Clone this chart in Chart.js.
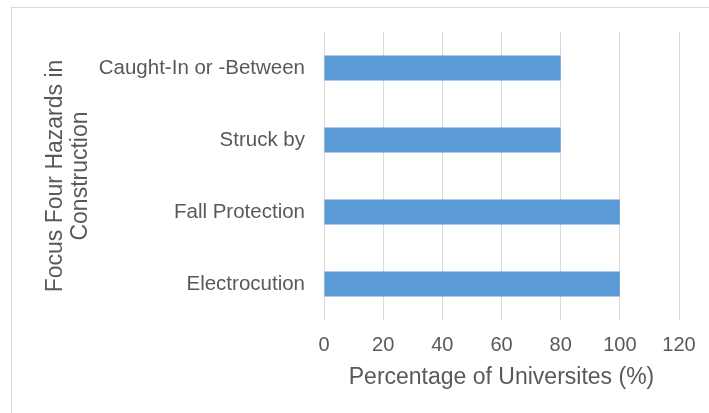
<!DOCTYPE html>
<html>
<head>
<meta charset="utf-8">
<script src="https://cdn.jsdelivr.net/npm/chart.js@4"></script>
<style>
  html, body { margin: 0; padding: 0; background: #fff; }
  #wrap { position: relative; width: 709px; height: 413px; overflow: hidden; }
  #frame { position: absolute; left: 11px; top: 7px; width: 800px; height: 500px; border: 1px solid #d9d9d9; }
  #chart { position: absolute; left: 0; top: 0; }
</style>
</head>
<body>
<div id="wrap">
  <div id="frame"></div>
  <canvas id="chart" width="709" height="413"></canvas>
</div>
<script>
// hazard categories, top to bottom
const categories = ["Caught-In or -Between", "Struck by", "Fall Protection", "Electrocution"];
// share of universities covering each hazard (%)
const values = [80, 80, 100, 100];
const xMin = 0;
const xMax = 120;
const xStep = 20;

const textColor = "#595959";
const fontFamily = "'Liberation Sans', Arial, sans-serif";

new Chart(document.getElementById("chart"), {
  type: "bar",
  data: {
    labels: categories,
    datasets: [{
      data: values,
      backgroundColor: "#5b9bd5",
      borderWidth: 0,
      categoryPercentage: 1,
      barPercentage: 0.35
    }]
  },
  options: {
    indexAxis: "y",
    responsive: false,
    animation: false,
    layout: { padding: { top: 32, right: 30, bottom: 0, left: 0 } },
    plugins: {
      legend: { display: false },
      tooltip: { enabled: false }
    },
    scales: {
      x: {
        min: xMin,
        max: xMax,
        ticks: {
          stepSize: xStep,
          color: textColor,
          padding: 13,
          font: { family: fontFamily, size: 20 }
        },
        grid: { color: "#d9d9d9", lineWidth: 1, drawTicks: false },
        border: { display: false },
        title: {
          display: true,
          text: "Percentage of Universites (%)",
          color: textColor,
          font: { family: fontFamily, size: 23 },
          padding: { top: 0, bottom: 22 }
        },
        afterFit: s => { s.height = 413 - 320; }
      },
      y: {
        ticks: {
          color: textColor,
          padding: 19,
          font: { family: fontFamily, size: 20.5 }
        },
        grid: { display: false, drawTicks: false },
        border: { display: false },
        title: {
          display: true,
          text: ["Focus Four Hazards in", "Construction"],
          color: textColor,
          font: { family: fontFamily, size: 23, lineHeight: 1.09 },
          padding: { top: 43, bottom: 0 }
        },
        afterFit: s => { s.width = 324; }
      }
    }
  }
});
</script>
</body>
</html>
